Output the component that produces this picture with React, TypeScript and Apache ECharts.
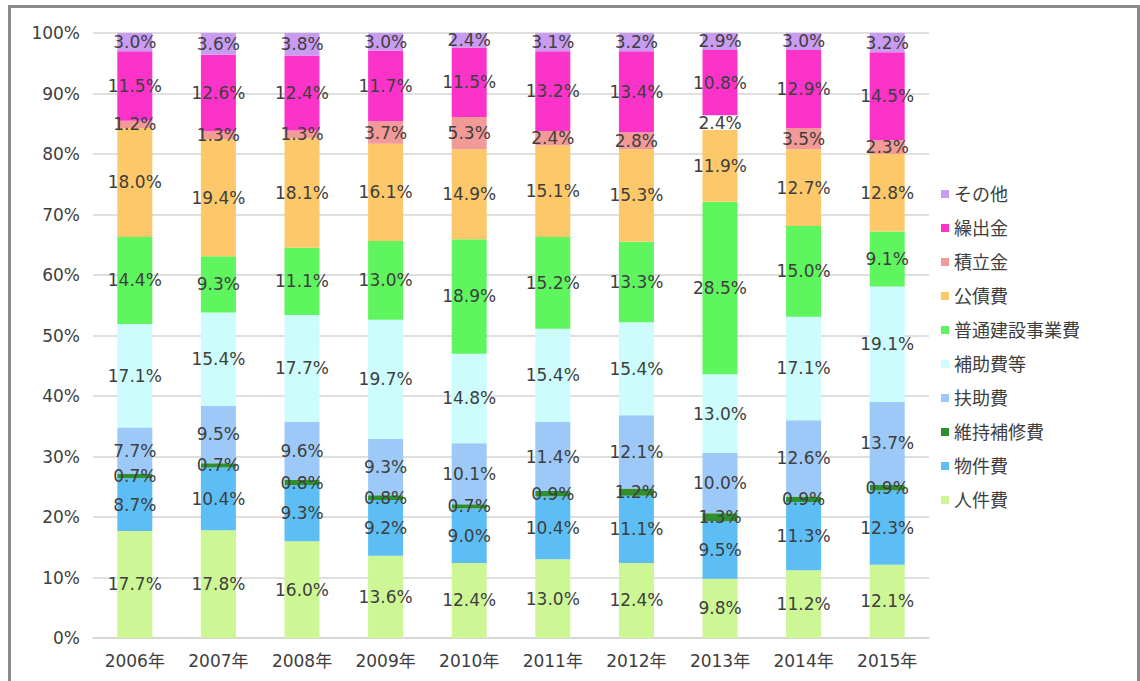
import React, { useEffect, useRef } from 'react';
import * as echarts from 'echarts';

// 歳出の性質別構成比（%）
const years = ['2006年', '2007年', '2008年', '2009年', '2010年', '2011年', '2012年', '2013年', '2014年', '2015年'];

const personnel = [17.7, 17.8, 16.0, 13.6, 12.4, 13.0, 12.4, 9.8, 11.2, 12.1];
const goods = [8.7, 10.4, 9.3, 9.2, 9.0, 10.4, 11.1, 9.5, 11.3, 12.3];
const maintenance = [0.7, 0.7, 0.8, 0.8, 0.7, 0.9, 1.2, 1.3, 0.9, 0.9];
const assistance = [7.7, 9.5, 9.6, 9.3, 10.1, 11.4, 12.1, 10.0, 12.6, 13.7];
const subsidies = [17.1, 15.4, 17.7, 19.7, 14.8, 15.4, 15.4, 13.0, 17.1, 19.1];
const construction = [14.4, 9.3, 11.1, 13.0, 18.9, 15.2, 13.3, 28.5, 15.0, 9.1];
const debt = [18.0, 19.4, 18.1, 16.1, 14.9, 15.1, 15.3, 11.9, 12.7, 12.8];
const reserve = [1.2, 1.3, 1.3, 3.7, 5.3, 2.4, 2.8, 2.4, 3.5, 2.3];
const transfers = [11.5, 12.6, 12.4, 11.7, 11.5, 13.2, 13.4, 10.8, 12.9, 14.5];
const other = [3.0, 3.6, 3.8, 3.0, 2.4, 3.1, 3.2, 2.9, 3.0, 3.2];

// 積み上げ順（下から）
const seriesDefs = [
  { name: '人件費', values: personnel, color: '#ccf794' },
  { name: '物件費', values: goods, color: '#5cbef5' },
  { name: '維持補修費', values: maintenance, color: '#2f8f2f' },
  { name: '扶助費', values: assistance, color: '#9cc9f7' },
  { name: '補助費等', values: subsidies, color: '#ccfcfc' },
  { name: '普通建設事業費', values: construction, color: '#5ef55e' },
  { name: '公債費', values: debt, color: '#fdc869' },
  { name: '積立金', values: reserve, color: '#f29a98' },
  { name: '繰出金', values: transfers, color: '#fc33c8' },
  { name: 'その他', values: other, color: '#c99cf2' },
];

// 2013年の積立金は白抜き
const whiteCells: Record<string, number[]> = { '積立金': [7] };

const FONT = "'DejaVu Sans', 'Noto Sans CJK JP', sans-serif";
const TEXT = '#3e3e3e';

export default function App() {
  const ref = useRef<HTMLDivElement>(null);

  useEffect(() => {
    if (!ref.current) return;
    const chart = echarts.init(ref.current, undefined, { renderer: 'svg' });

    const series = seriesDefs.map((d) => ({
      name: d.name,
      type: 'bar' as const,
      stack: 'total',
      barWidth: 35,
      itemStyle: { color: d.color },
      label: {
        show: true,
        position: 'inside' as const,
        formatter: (p: any) => `${Number(p.value).toFixed(1)}%`,
        color: TEXT,
        fontFamily: FONT,
        fontSize: 17,
        fontWeight: 'normal' as const,
      },
      data: d.values.map((v, i) =>
        (whiteCells[d.name] || []).includes(i)
          ? { value: v, itemStyle: { color: '#ffffff' } }
          : v
      ),
    }));

    chart.setOption({
      animation: false,
      backgroundColor: 'transparent',
      grid: { left: 93, right: 211, top: 33, bottom: 43, containLabel: false },
      legend: {
        orient: 'vertical',
        left: 936,
        top: 179,
        itemWidth: 8,
        itemHeight: 8,
        itemGap: 14,
        icon: 'rect',
        data: seriesDefs.map((d) => d.name).reverse(),
        textStyle: {
          fontFamily: FONT,
          fontSize: 18,
          color: TEXT,
          lineHeight: 20,
        },
      },
      xAxis: {
        type: 'category',
        data: years,
        axisTick: { show: false },
        axisLine: { lineStyle: { color: '#d4d4d4', width: 1.5 } },
        axisLabel: {
          margin: 14,
          fontFamily: FONT,
          fontSize: 17,
          color: TEXT,
        },
      },
      yAxis: {
        type: 'value',
        min: 0,
        max: 100,
        interval: 10,
        axisLine: { show: false },
        axisTick: { show: false },
        splitLine: { lineStyle: { color: '#d4d4d4', width: 1.5 } },
        axisLabel: {
          formatter: '{value}%',
          margin: 13,
          fontFamily: FONT,
          fontSize: 17,
          color: TEXT,
        },
      },
      series,
    });

    return () => chart.dispose();
  }, []);

  return (
    <div
      style={{
        position: 'absolute',
        left: 0,
        top: 0,
        width: 1140,
        height: 681,
        overflow: 'hidden',
        background: '#ffffff',
      }}
    >
      <div
        style={{
          position: 'absolute',
          left: 8,
          top: 5,
          width: 1132,
          height: 720,
          boxSizing: 'border-box',
          borderTop: '3px solid #8a8a8a',
          borderLeft: '3px solid #8a8a8a',
          borderRight: '3px solid #8a8a8a',
        }}
      />
      <div ref={ref} style={{ position: 'absolute', left: 0, top: 0, width: 1140, height: 681 }} />
    </div>
  );
}
